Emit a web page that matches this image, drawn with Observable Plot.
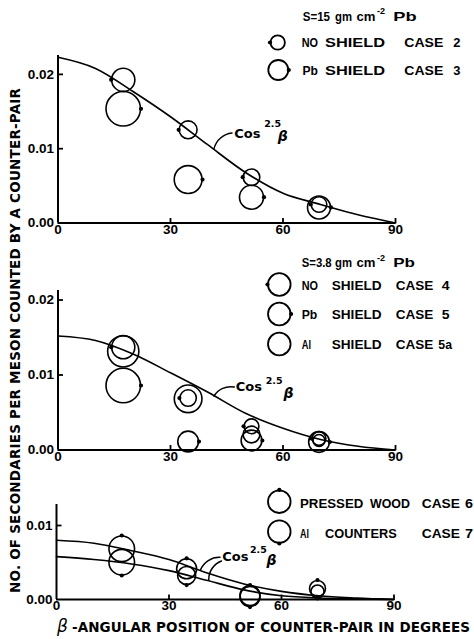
<!DOCTYPE html>
<html><head><meta charset="utf-8">
<script src="https://cdn.jsdelivr.net/npm/d3@7"></script>
<script src="https://cdn.jsdelivr.net/npm/@observablehq/plot@0.6"></script>
<style>
html,body{margin:0;padding:0;background:#fff;}
#chart{position:relative;width:474px;height:639px;overflow:hidden;background:#fff;}
#chart svg{position:absolute;left:0;}
</style></head><body><div id="chart"></div>
<script>
// ---------- data ----------
const angles = [17.4, 34.7, 51.6, 69.6];           // β, degrees
// panel 1 : S = 15 gm cm^-2 Pb
const case2 = [0.01927, 0.01254, 0.00616, 0.00249]; // no shield
const case2Err = [0.00157, 0.00121, 0.00112, 0.00105];
const case3 = [0.01537, 0.00585, 0.00347, 0.00209]; // Pb shield
const case3Err = [0.00233, 0.00188, 0.00162, 0.00155];
// panel 2 : S = 3.8 gm cm^-2 Pb
const case4 = [0.01371, 0.00693, 0.00316, 0.00153]; // no shield
const case4Err = [0.00156, 0.00111, 0.00100, 0.00093];
const case5 = [0.0086, 0.00113, 0.00127, 0.00107];  // Pb shield
const case5Err = [0.00233, 0.0014, 0.0014, 0.0014];
const case5a = [0.01316, 0.00683, 0.00207, 0.00127]; // Al shield
const case5aErr = [0.00211, 0.00187, 0.00113, 0.0008];
// panel 3
const case6 = [0.00685, 0.00415, 0.00054, 0.00149]; // pressed wood
const case6Err = [0.00173, 0.00135, 0.00135, 0.00108];
const case7 = [0.00504, 0.00324, 0.00040, 0.00108]; // Al counters
const case7Err = [0.00173, 0.00122, 0.00135, 0.00088];
// Cos^2.5 β curves as drawn
const curveBeta = [0, 10, 20, 30, 40, 50, 60, 70, 80, 90];
const curveP1 = [0.0223, 0.0208, 0.0177, 0.0143, 0.0105, 0.0068, 0.0040, 0.0025, 0.0011, 0.0];
const curveP2 = [0.0152, 0.0146, 0.0128, 0.0103, 0.0077, 0.0049, 0.0029, 0.0014, 0.0005, 0.0];
const curveP3a = [0.0080, 0.0076, 0.0066, 0.0054, 0.0036, 0.0021, 0.0011, 0.0005, 0.0002, 0.0];
const curveP3b = [0.0058, 0.0054, 0.0048, 0.0039, 0.0026, 0.0013, 0.0005, 0.0002, 0.0001, 0.0];
// ticks
const xTicks = [0, 30, 60, 90];
const yTicksTall = [0, 0.01, 0.02];
const yTicksShort = [0, 0.01];
// curve label anchors (β, value)
const noteP1 = [{t: "Cos", b: 47.0, v: 0.0120}, {t: "2.5", b: 55.0, v: 0.0133}, {t: "β", b: 58.6, v: 0.0116}];
const noteP2 = [{t: "Cos", b: 47.4, v: 0.00837}, {t: "2.5", b: 55.4, v: 0.00927}, {t: "β", b: 60.1, v: 0.0075}];
const noteP3 = [{t: "Cos", b: 44.2, v: 0.00572}, {t: "2.5", b: 51.6, v: 0.00665}, {t: "β", b: 56.0, v: 0.00527}];
const leaderP1 = [{b1: 41.6, v1: 0.0100, b2: 46.4, v2: 0.0121}];
const leaderP2 = [{b1: 41.6, v1: 0.0072, b2: 47.0, v2: 0.0084}];
const leaderP3 = [{b1: 38.4, v1: 0.0040, b2: 43.6, v2: 0.0057}, {b1: 40.6, v1: 0.0027, b2: 44.0, v2: 0.0052}];

// ---------- helpers ----------
const rows = (ys, errs) => angles.map((b, i) => ({b, v: ys[i], err: errs[i]}));
const curveRows = (vals) => curveBeta.map((b, i) => ({b, v: vals[i]}));
const nub = (ox, oy) => ({draw(ctx, size) {
  const R = Math.sqrt(size / Math.PI), cx = ox * (R + 0.5), cy = oy * (R + 0.5);
  ctx.moveTo(cx + 2.1, cy); ctx.arc(cx, cy, 2.1, 0, 2 * Math.PI);
}});
const tickUp = {draw(ctx) { ctx.moveTo(0, 0); ctx.lineTo(0, -5); }};
const tickRight = {draw(ctx) { ctx.moveTo(0, 0); ctx.lineTo(5, 0); }};

function panel({height, mt, mb, ml = 57.5, mr = 79, ymax, yTicks, series, curves, notes, leaders}) {
  const marks = [
    Plot.ruleY([0], {strokeWidth: 2}),
    Plot.ruleX([0], {strokeWidth: 2}),
    Plot.dot(xTicks.slice(1), {x: d => d, y: () => 0, symbol: tickUp, stroke: "black", strokeWidth: 1.8, fill: "none"}),
    Plot.dot(yTicks.slice(1), {x: () => 0, y: d => d, symbol: tickRight, stroke: "black", strokeWidth: 1.8, fill: "none"}),
    Plot.axisX({ticks: xTicks, tickSize: 0, tickPadding: 1, label: null, tickFormat: d3.format("d")}),
    Plot.axisY({ticks: yTicks, tickSize: 0, tickPadding: 4, label: null, tickFormat: d3.format(".2f")}),
    ...curves.map(c => Plot.line(curveRows(c), {x: "b", y: "v", curve: "monotone-x", strokeWidth: 1.6})),
    Plot.arrow(leaders, {x1: "b1", y1: "v1", x2: "b2", y2: "v2", bend: 35, headLength: 0, strokeWidth: 1.5}),
    Plot.text(notes.slice(0, 1), {x: "b", y: "v", text: "t", textAnchor: "start", fontSize: 13, fontWeight: "bold", fontFamily: "DejaVu Sans"}),
    Plot.text(notes.slice(1, 2), {x: "b", y: "v", text: "t", textAnchor: "start", fontSize: 9.5, fontWeight: "bold", fontFamily: "DejaVu Sans"}),
    Plot.text(notes.slice(2, 3), {x: "b", y: "v", text: "t", textAnchor: "start", fontSize: 14, fontStyle: "italic", fontFamily: "DejaVu Sans"})
  ];
  for (const s of series) {
    marks.push(Plot.dot(s.data, {x: "b", y: "v", r: "err", stroke: "black", strokeWidth: 1.6, fill: "none"}));
    if (s.nub) marks.push(Plot.dot(s.data, {x: "b", y: "v", r: "err", symbol: nub(...s.nub), fill: "black", stroke: "none"}));
  }
  return Plot.plot({
    width: 474, height, marginTop: mt, marginBottom: mb, marginLeft: ml, marginRight: mr,
    style: {fontFamily: "'Liberation Sans', Arial, sans-serif", fontSize: "13.5px", fontWeight: "bold", background: "transparent", color: "black", overflow: "visible"},
    x: {domain: [0, 90]},
    y: {domain: [0, ymax]},
    r: {type: "linear", domain: [0, 0.01], range: [0, 74]},
    marks
  });
}

const chart = document.getElementById("chart");
const p1 = panel({height: 240, mt: 55, mb: 17.5, ymax: 0.02254, yTicks: yTicksTall,
  series: [{data: rows(case2, case2Err), nub: [-1, 0]}, {data: rows(case3, case3Err), nub: [1, 0]}],
  curves: [curveP1], notes: noteP1, leaders: leaderP1});
p1.style.top = "0px"; chart.appendChild(p1);
const p2 = panel({height: 230, mt: 50, mb: 20.5, ymax: 0.02127, yTicks: yTicksTall,
  series: [{data: rows(case4, case4Err), nub: [-1, 0]}, {data: rows(case5, case5Err), nub: [1, 0]}, {data: rows(case5a, case5aErr), nub: null}],
  curves: [curveP2], notes: noteP2, leaders: leaderP2});
p2.style.top = "240px"; chart.appendChild(p2);
const p3 = panel({height: 169, mt: 34, mb: 40, ml: 56, mr: 80.5, ymax: 0.01284, yTicks: yTicksShort,
  series: [{data: rows(case6, case6Err), nub: [0, -1]}, {data: rows(case7, case7Err), nub: [0, 1]}],
  curves: [curveP3a, curveP3b], notes: noteP3, leaders: leaderP3});
p3.style.top = "470px"; chart.appendChild(p3);

// ---------- overlay: axis titles and legends ----------
const ov = d3.create("svg").attr("width", 474).attr("height", 639).style("top", "0px")
  .attr("font-family", "'DejaVu Sans', sans-serif").attr("font-weight", "bold");
ov.append("text").attr("transform", "translate(20,340.5) rotate(-90)").attr("text-anchor", "middle")
  .attr("font-size", 13.5).attr("textLength", 505).attr("lengthAdjust", "spacing")
  .text("NO. OF SECONDARIES PER MESON COUNTED BY A COUNTER-PAIR");
ov.append("text").attr("x", 57).attr("y", 632).attr("font-size", 17).attr("font-style", "italic").attr("font-weight", "normal").text("β");
ov.append("text").attr("x", 72).attr("y", 632).attr("font-size", 13.5).attr("textLength", 398).attr("lengthAdjust", "spacing")
  .text("-ANGULAR POSITION OF COUNTER-PAIR IN DEGREES");

const words = [
  // [text, x0, x1, baseline, size]
  ["S=15", 302.7, 330, 20.5, 13], ["gm", 335, 352, 20.5, 13], ["cm", 356.5, 375.5, 20.5, 13], ["Pb", 393.3, 416.7, 20.5, 13.5],
  ["NO", 301.7, 318, 46.7, 13.5], ["SHIELD", 325, 385, 46.7, 13.5], ["CASE", 404.3, 443.3, 46.7, 13.5], ["2", 453.3, 460.5, 46.7, 13.5],
  ["Pb", 302.5, 318, 74.5, 13.5], ["SHIELD", 325, 385, 74.5, 13.5], ["CASE", 404.3, 443.3, 74.5, 13.5], ["3", 453.3, 460.5, 74.5, 13.5],
  ["S=3.8", 301.7, 331.7, 267, 12.5], ["gm", 335, 352, 267, 13], ["cm", 356.5, 375.5, 267, 13], ["Pb", 393.3, 415, 267, 13.5],
  ["NO", 301.7, 318, 290, 13.5], ["SHIELD", 331.7, 381.7, 290, 13.5], ["CASE", 395.7, 433.3, 290, 13.5], ["4", 441.7, 449.5, 290, 13.5],
  ["Pb", 301.7, 317.3, 319, 13.5], ["SHIELD", 331.7, 381.7, 319, 13.5], ["CASE", 395.7, 433.3, 319, 13.5], ["5", 441.7, 449.5, 319, 13.5],
  ["Al", 301.7, 311, 349, 13.5], ["SHIELD", 331.7, 381.7, 349, 13.5], ["CASE", 395.7, 433.3, 349, 13.5], ["5a", 438.3, 452, 349, 13.5],
  ["PRESSED", 300, 363.3, 508.3, 13.5], ["WOOD", 370, 410, 508.3, 13.5], ["CASE", 421.7, 460, 508.3, 13.5], ["6", 465, 473, 508.3, 13.5],
  ["Al", 300, 309, 538.3, 13.5], ["COUNTERS", 325, 396.7, 538.3, 13.5], ["CASE", 421.7, 460, 538.3, 13.5], ["7", 465, 473, 538.3, 13.5]
];
for (const [t, x0, x1, y, s] of words) {
  ov.append("text").attr("x", x0).attr("y", y).attr("font-size", s)
    .attr("font-family", "'Liberation Sans', Arial, sans-serif")
    .attr("textLength", x1 - x0).attr("lengthAdjust", "spacingAndGlyphs").text(t);
}
for (const y of [14, 260.5]) {
  ov.append("text").attr("x", 377).attr("y", y).attr("font-size", 9)
    .attr("font-family", "'Liberation Sans', Arial, sans-serif").text("-2");
}
const legendSyms = [
  [277.7, 42.5, 7.2, -1, 0], [278.3, 70, 10, 1, 0],
  [279.3, 284.5, 11.3, -1, 0], [279.3, 314, 11.3, 1, 0], [279.3, 344, 11.3, 0, 0],
  [279.3, 501.7, 11.3, 0, -1], [279.3, 531.7, 11.3, 0, 1]
];
for (const [cx, cy, r, ox, oy] of legendSyms) {
  ov.append("circle").attr("cx", cx).attr("cy", cy).attr("r", r).attr("fill", "none").attr("stroke", "black").attr("stroke-width", 1.8);
  if (ox || oy) ov.append("circle").attr("cx", cx + ox * (r + 0.5)).attr("cy", cy + oy * (r + 0.5)).attr("r", 2.1).attr("fill", "black");
}
chart.appendChild(ov.node());
</script></body></html>
